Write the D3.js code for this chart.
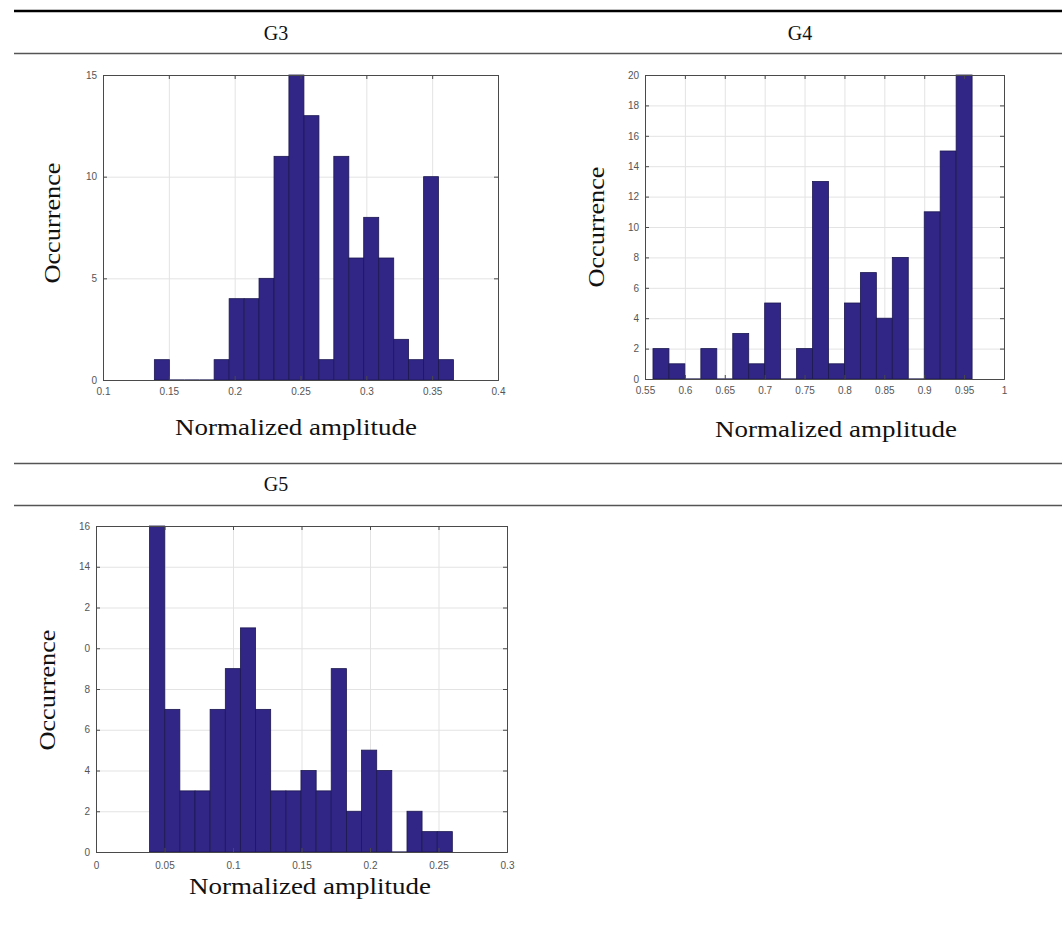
<!DOCTYPE html>
<html>
<head>
<meta charset="utf-8">
<script src="https://cdn.jsdelivr.net/npm/d3@7"></script>
<style>
  body { margin: 0; background: #fff; }
  .tick text { font-family: "Liberation Sans", Arial, sans-serif; font-size: 10px; fill: #555; }
  .serif { font-family: "Liberation Serif", "Times New Roman", serif; fill: #111; }
</style>
</head>
<body>
<div id="chart"></div>
<script>
// histogram data (bin edges + counts)
const g3Edges = [0.139, 0.1504, 0.1617, 0.1731, 0.1844, 0.1958, 0.2072, 0.2185, 0.2299, 0.2412, 0.2526,
  0.2640, 0.2753, 0.2867, 0.2980, 0.3094, 0.3208, 0.3321, 0.3435, 0.3548, 0.3662];
const g3Counts = [1, 0, 0, 0, 1, 4, 4, 5, 11, 15, 13, 1, 11, 6, 8, 6, 2, 1, 10, 1];
const g3XTicks = [0.1, 0.15, 0.2, 0.25, 0.3, 0.35, 0.4];
const g3XLabels = ["0.1", "0.15", "0.2", "0.25", "0.3", "0.35", "0.4"];
const g3YTicks = [0, 5, 10, 15];
const g3YLabels = ["0", "5", "10", "15"];

const g4Edges = [0.56, 0.58, 0.60, 0.62, 0.64, 0.66, 0.68, 0.70, 0.72, 0.74, 0.76,
  0.78, 0.80, 0.82, 0.84, 0.86, 0.88, 0.90, 0.92, 0.94, 0.96];
const g4Counts = [2, 1, 0, 2, 0, 3, 1, 5, 0, 2, 13, 1, 5, 7, 4, 8, 0, 11, 15, 20];
const g4XTicks = [0.55, 0.6, 0.65, 0.7, 0.75, 0.8, 0.85, 0.9, 0.95, 1];
const g4XLabels = ["0.55", "0.6", "0.65", "0.7", "0.75", "0.8", "0.85", "0.9", "0.95", "1"];
const g4YTicks = [0, 2, 4, 6, 8, 10, 12, 14, 16, 18, 20];
const g4YLabels = ["0", "2", "4", "6", "8", "10", "12", "14", "16", "18", "20"];

const g5Edges = [0.0391, 0.0502, 0.0612, 0.0723, 0.0833, 0.0944, 0.1054, 0.1165, 0.1275, 0.1386, 0.1496,
  0.1607, 0.1717, 0.1828, 0.1938, 0.2049, 0.2159, 0.2270, 0.2380, 0.2491, 0.2601];
const g5Counts = [16, 7, 3, 3, 7, 9, 11, 7, 3, 3, 4, 3, 9, 2, 5, 4, 0, 2, 1, 1];
const g5XTicks = [0, 0.05, 0.1, 0.15, 0.2, 0.25, 0.3];
const g5XLabels = ["0", "0.05", "0.1", "0.15", "0.2", "0.25", "0.3"];
const g5YTicks = [0, 2, 4, 6, 8, 10, 12, 14, 16];
// the left digits of 12 and 10 are cut off in the source figure
const g5YLabels = ["0", "2", "4", "6", "8", "0", "2", "14", "16"];

const W = 1062, H = 945;
const barFill = "#312685";
const barEdge = "#1c1850";

const svg = d3.select("#chart")
  .append("svg")
  .attr("width", W)
  .attr("height", H);

// ===== table rules + headers =====
svg.append("line").attr("x1", 14).attr("x2", W).attr("y1", 11).attr("y2", 11)
  .attr("stroke", "#000").attr("stroke-width", 2.5);
[53.5, 463.5, 505.5].forEach(y => {
  svg.append("line").attr("x1", 14).attr("x2", W).attr("y1", y).attr("y2", y)
    .attr("stroke", "#555").attr("stroke-width", 1.5);
});

const headers = [["G3", 276, 40], ["G4", 800, 40], ["G5", 276, 491]];
headers.forEach(([t, x, y]) => {
  svg.append("text").attr("class", "serif")
    .attr("x", x).attr("y", y)
    .attr("text-anchor", "middle")
    .style("font-size", "20px")
    .text(t);
});

// ===== histogram panels =====
function drawHist(cfg) {
  const w = cfg.x1 - cfg.x0, h = cfg.y1 - cfg.y0;
  const g = svg.append("g").attr("transform", `translate(${cfg.x0},${cfg.y0})`);

  const x = d3.scaleLinear().domain(cfg.xDomain).range([0, w]);
  const y = d3.scaleLinear().domain(cfg.yDomain).range([h, 0]);

  // grid
  g.append("g")
    .attr("transform", `translate(0,${h})`)
    .call(d3.axisBottom(x).tickValues(cfg.xTicks).tickSize(-h).tickFormat(""))
    .call(s => s.select(".domain").remove())
    .call(s => s.selectAll("line").attr("stroke", "#e3e3e3"));
  g.append("g")
    .call(d3.axisLeft(y).tickValues(cfg.yTicks).tickSize(-w).tickFormat(""))
    .call(s => s.select(".domain").remove())
    .call(s => s.selectAll("line").attr("stroke", "#e3e3e3"));

  const bins = cfg.counts.map((c, i) => ({ x0: cfg.edges[i], x1: cfg.edges[i + 1], c }));

  g.selectAll("rect.bar")
    .data(bins.filter(d => d.c > 0))
    .enter()
    .append("rect")
    .attr("class", "bar")
    .attr("x", d => x(d.x0))
    .attr("width", d => x(d.x1) - x(d.x0))
    .attr("y", d => y(d.c))
    .attr("height", d => y(0) - y(d.c))
    .attr("fill", barFill)
    .attr("stroke", barEdge)
    .attr("stroke-width", 0.8);

  // empty bins still leave an edge line on the baseline
  g.selectAll("line.zero")
    .data(bins.filter(d => d.c === 0))
    .enter()
    .append("line")
    .attr("class", "zero")
    .attr("x1", d => x(d.x0)).attr("x2", d => x(d.x1))
    .attr("y1", y(0)).attr("y2", y(0))
    .attr("stroke", barEdge).attr("stroke-width", 1.2);

  // axes (inward ticks, box on)
  const fmtX = (d, i) => cfg.xLabels[i];
  const fmtY = (d, i) => cfg.yLabels[i];
  const ax = [];
  ax.push(g.append("g")
    .attr("transform", `translate(0,${h})`)
    .call(d3.axisBottom(x).tickValues(cfg.xTicks).tickFormat(fmtX).tickSize(-4).tickPadding(cfg.xPad)));
  ax.push(g.append("g")
    .call(d3.axisLeft(y).tickValues(cfg.yTicks).tickFormat(fmtY).tickSize(-4).tickPadding(6)));
  ax.push(g.append("g")
    .call(d3.axisTop(x).tickValues(cfg.xTicks).tickFormat("").tickSize(-4)));
  ax.push(g.append("g")
    .attr("transform", `translate(${w},0)`)
    .call(d3.axisRight(y).tickValues(cfg.yTicks).tickFormat("").tickSize(-4)));
  ax.forEach(a => a.selectAll(".domain, .tick line").attr("stroke", "#4a4a4a"));

  // labels
  svg.append("text").attr("class", "serif")
    .attr("transform", `translate(${cfg.yLabelX},${cfg.yLabelY}) rotate(-90)`)
    .attr("text-anchor", "middle")
    .attr("textLength", 121).attr("lengthAdjust", "spacingAndGlyphs")
    .style("font-size", "23px")
    .text("Occurrence");

  svg.append("text").attr("class", "serif")
    .attr("x", cfg.xLabelX).attr("y", cfg.xLabelY)
    .attr("text-anchor", "middle")
    .attr("textLength", 242).attr("lengthAdjust", "spacingAndGlyphs")
    .style("font-size", "23px")
    .text("Normalized amplitude");
}

drawHist({
  x0: 103, x1: 498, y0: 75, y1: 380,
  xDomain: [0.1, 0.4], yDomain: [0, 15],
  edges: g3Edges, counts: g3Counts,
  xTicks: g3XTicks, xLabels: g3XLabels, yTicks: g3YTicks, yLabels: g3YLabels,
  xPad: 8,
  yLabelX: 60, yLabelY: 223, xLabelX: 296, xLabelY: 435
});

drawHist({
  x0: 645, x1: 1004, y0: 75, y1: 379,
  xDomain: [0.55, 1], yDomain: [0, 20],
  edges: g4Edges, counts: g4Counts,
  xTicks: g4XTicks, xLabels: g4XLabels, yTicks: g4YTicks, yLabels: g4YLabels,
  xPad: 8,
  yLabelX: 604, yLabelY: 227, xLabelX: 836, xLabelY: 437
});

drawHist({
  x0: 96, x1: 507, y0: 526, y1: 852,
  xDomain: [0, 0.3], yDomain: [0, 16],
  edges: g5Edges, counts: g5Counts,
  xTicks: g5XTicks, xLabels: g5XLabels, yTicks: g5YTicks, yLabels: g5YLabels,
  xPad: 10,
  yLabelX: 55, yLabelY: 690, xLabelX: 310, xLabelY: 894
});
</script>
</body>
</html>
